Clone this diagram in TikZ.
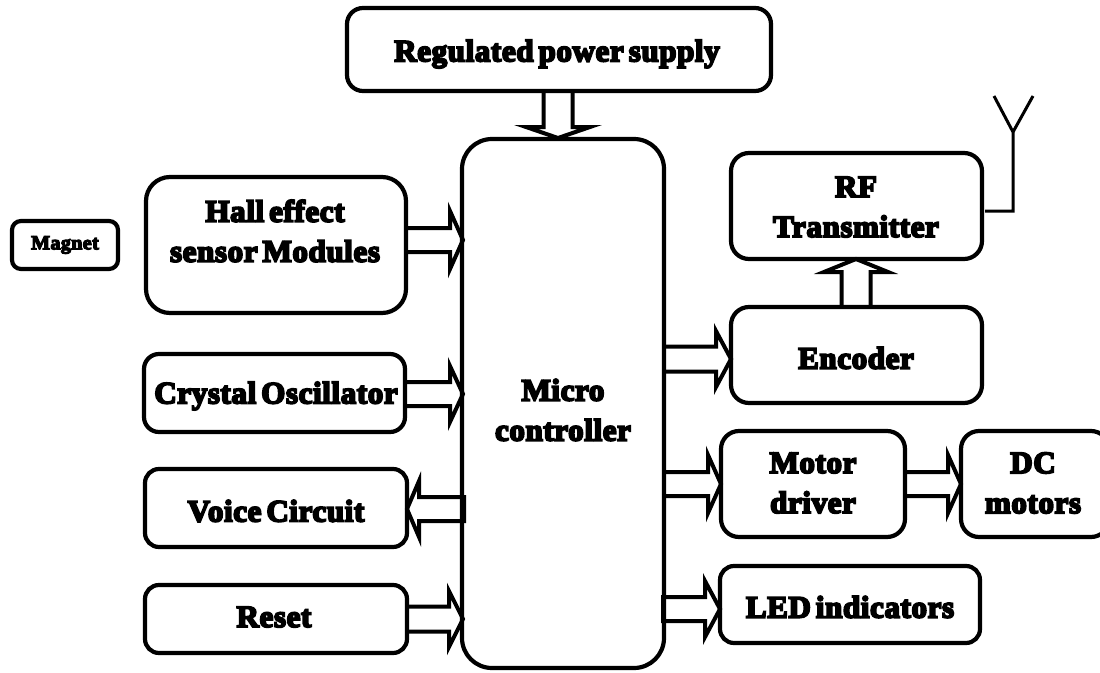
\documentclass[tikz,border=0pt]{standalone}
\usepackage{fontspec}
\setmainfont{Liberation Serif}[BoldFeatures={FakeBold=6,LetterSpace=2,WordSpace=0.6}]
\usetikzlibrary{calc}
\tikzset{
  x=1pt,y=-1pt,
  blk/.style={draw,line width=4.2pt,fill=white,rounded corners=#1,inner sep=0pt},
  lbl/.style={font=\fontsize{#1}{40}\selectfont\bfseries,align=center,inner sep=0pt,text=black},
  arrline/.style={draw,line width=4pt,miter limit=10,line join=miter},
  thin line/.style={draw,line width=3pt}
}
% tail, tip, half width, half wing span, head length
\newcommand{\blockarr}[5]{%
  \coordinate (hb) at ($(#2)!#5pt!(#1)$);
  \draw[arrline] ($(#1)!#3pt!90:(#2)$) -- ($(hb)!#3pt!90:(#2)$) -- ($(hb)!#4pt!90:(#2)$) -- (#2)
     -- ($(hb)!#4pt!-90:(#2)$) -- ($(hb)!#3pt!-90:(#2)$) -- ($(#1)!#3pt!-90:(#2)$);}
\newcommand{\blockarrc}[5]{%
  \coordinate (hb) at ($(#2)!#5pt!(#1)$);
  \draw[arrline] ($(hb)!#3pt!90:(#2)$) -- ($(#1)!#3pt!90:(#2)$) -- ($(#1)!#3pt!-90:(#2)$) -- ($(hb)!#3pt!-90:(#2)$)
     -- ($(hb)!#4pt!-90:(#2)$) -- (#2) -- ($(hb)!#4pt!90:(#2)$) -- cycle;}
\newcommand{\bx}[6]{% name x1 y1 x2 y2 radius
  \path[blk=#6] (#2,#3) rectangle (#4,#5);
  \coordinate (#1) at ({(#2+#4)/2},{(#3+#5)/2});}
\begin{document}
\begin{tikzpicture}
\useasboundingbox (0,0) rectangle (1100,672);
\fill[white] (0,0) rectangle (1100,672);
\bx{power}{347}{8}{771}{91}{16}
\bx{mcu}{462}{139}{664}{668}{30}
\bx{hall}{146}{177}{406}{313}{24}
\bx{magnet}{12}{221}{118}{269}{9}
\bx{crystal}{144}{354}{405}{432}{15}
\bx{voice}{145}{469}{407}{547}{14}
\bx{reset}{145}{585}{407}{653}{14}
\bx{rf}{731}{153}{982}{259}{18}
\bx{enc}{731}{307}{982}{403}{18}
\bx{motor}{721}{431}{905}{537}{18}
\bx{dc}{961}{431}{1109}{537}{18}
\bx{led}{720}{566}{980}{643}{14}
\node[lbl=31] (tpower) at (557,54) {Regulated power supply};
\node[lbl=31] (tmcu) at (563,410) {Micro\\controller};
\node[lbl=31] (thall) at (275,231) {Hall effect\\sensor Modules};
\node[lbl=20] (tmag) at (65,245) {Magnet};
\node[lbl=31] (tcry) at (276,396) {Crystal Oscillator};
\node[lbl=31] (tvoice) at (276,511) {Voice Circuit};
\node[lbl=31] (treset) at (274,617) {Reset};
\node[lbl=31] (trf) at (856,207) {RF\\Transmitter};
\node[lbl=31] (tenc) at (856,358) {Encoder};
\node[lbl=31] (tmot) at (813,483) {Motor\\driver};
\node[lbl=31] (tdc) at (1033,483) {DC\\motors};
\node[lbl=31] (tled) at (850,607) {LED indicators};
\coordinate (a1) at (558,91); \coordinate (b1) at (558,138); \blockarr{a1}{b1}{14.5}{32}{11}
\coordinate (a2) at (406,240); \coordinate (b2) at (463,240); \blockarr{a2}{b2}{12}{29}{13}
\coordinate (a3) at (405,394); \coordinate (b3) at (463,394); \blockarr{a3}{b3}{12}{28}{13}
\coordinate (a5) at (407,619); \coordinate (b5) at (463,619); \blockarr{a5}{b5}{12.5}{28}{14}
\coordinate (a6) at (856,307); \coordinate (b6) at (856,259); \blockarr{a6}{b6}{14.5}{32}{13}
\coordinate (a7) at (664,359); \coordinate (b7) at (731,359); \blockarr{a7}{b7}{12.5}{28}{15}
\coordinate (a8) at (664,484); \coordinate (b8) at (721,484); \blockarr{a8}{b8}{12}{29}{13}
\coordinate (a9) at (905,484); \coordinate (b9) at (961,484); \blockarr{a9}{b9}{12}{29}{13}
\coordinate (a10) at (663,609); \coordinate (b10) at (720,609); \blockarrc{a10}{b10}{12}{28}{15}
\coordinate (a4) at (464,509); \coordinate (b4) at (407,509); \blockarrc{a4}{b4}{12}{28}{12}
\coordinate (ant0) at (985,211);
\coordinate (ant1) at (1013,211);
\coordinate (ant2) at (1013,132);
\coordinate (antl) at (994,96);
\coordinate (antr) at (1033,96);
\draw[thin line] (ant0) -- (ant1) -- (ant2) -- (antl);
\draw[thin line] (ant2) -- (antr);
\end{tikzpicture}
\end{document}
